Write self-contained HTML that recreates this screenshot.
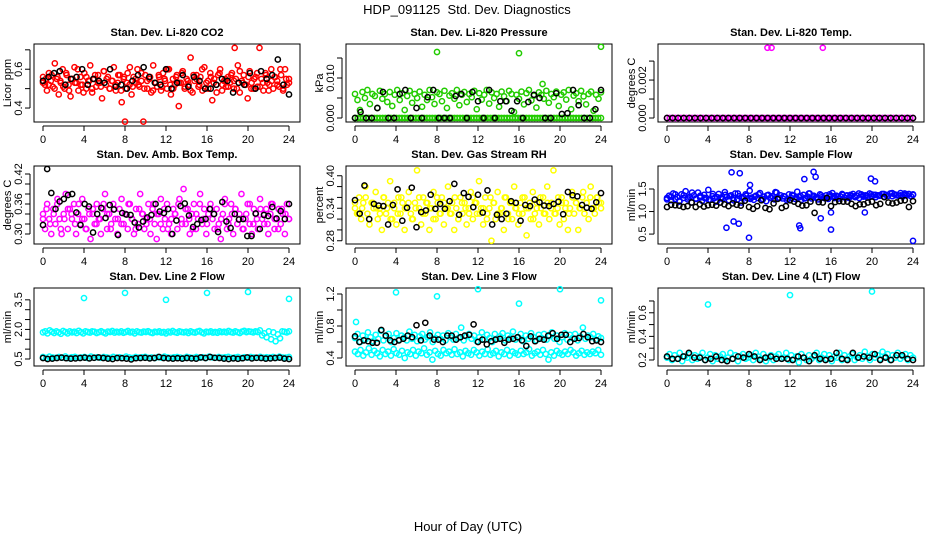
<!DOCTYPE html>
<html><head><meta charset="utf-8"><style>
html,body{margin:0;padding:0;background:#fff;}
svg{display:block;font-family:"Liberation Sans",Arial,sans-serif;}
</style></head><body>
<svg id="chart" width="936" height="540" viewBox="0 0 936 540" xmlns="http://www.w3.org/2000/svg">
<rect width="936" height="540" fill="#fff"/>
<text x="467" y="14" font-size="13" text-anchor="middle" style="white-space:pre">HDP_091125  Std. Dev. Diagnostics</text>
<text x="468" y="531" font-size="13" text-anchor="middle">Hour of Day (UTC)</text>
<g id="panels"></g>
</svg>
<script>
// ---- shared x axis ----
const xTicks = [0,4,8,12,16,20,24];

// ---- panel meta ----
const titles = ["Stan. Dev. Li-820 CO2","Stan. Dev. Li-820 Pressure","Stan. Dev. Li-820 Temp.","Stan. Dev. Amb. Box Temp.","Stan. Dev. Gas Stream RH","Stan. Dev. Sample Flow","Stan. Dev. Line 2 Flow","Stan. Dev. Line 3 Flow","Stan. Dev. Line 4 (LT) Flow"];
const yTitles = ["Licor ppm","kPa","degrees C","degrees C","percent","ml/min","ml/min","ml/min","ml/min"];
const yDomains = [[0.328,0.73],[-0.001,0.0185],[-0.00021,0.0039],[0.28,0.436],[0.274,0.418],[0.28,2.01],[0.145,4.1],[0.3,1.275],[0.149,0.81]];
const yTicks = [[0.4,0.5,0.6,0.7],[0,0.005,0.01,0.015],[0,0.001,0.002,0.003],[0.3,0.32,0.34,0.36,0.38,0.4,0.42],[0.28,0.3,0.32,0.34,0.36,0.38,0.4],[0.5,1.0,1.5],[0.5,1,1.5,2,2.5,3,3.5],[0.4,0.6,0.8,1.0,1.2],[0.2,0.3,0.4,0.5,0.6,0.7]];
const yTickLabels = [["0.4","","0.6",""],["0.000","","0.010",""],["0.000","","0.002",""],["0.30","","","0.36","","","0.42"],["0.28","","","0.34","","","0.40"],["0.5","1.0","1.5"],["0.5","","","2.0","","","3.5"],["0.4","","0.8","","1.2"],["0.2","","0.4","","0.6",""]];
const colors = ["#ff0000","#22cc00","#ff00ff","#ff00ff","#ffff00","#0000ff","#00ffff","#00ffff","#00ffff"];

// ---- series values (evenly spaced over 0-24 h) ----
const co2 = [0.56,0.52,0.49,0.58,0.54,0.51,0.63,0.55,0.47,0.53,0.6,0.5,0.57,0.52,0.46,0.55,0.61,0.53,0.49,0.56,0.52,0.58,0.5,0.54,0.62,0.48,0.55,0.51,0.57,0.53,0.45,0.59,0.52,0.56,0.5,0.54,0.61,0.49,0.53,0.57,0.43,0.55,0.5,0.58,0.52,0.47,0.56,0.53,0.6,0.51,0.54,0.33,0.57,0.5,0.55,0.48,0.62,0.53,0.51,0.56,0.49,0.58,0.54,0.5,0.6,0.47,0.55,0.52,0.57,0.41,0.53,0.59,0.5,0.55,0.52,0.66,0.48,0.54,0.57,0.51,0.56,0.49,0.61,0.53,0.5,0.58,0.44,0.55,0.52,0.57,0.6,0.49,0.54,0.51,0.56,0.53,0.58,0.5,0.55,0.62,0.48,0.54,0.57,0.52,0.45,0.59,0.53,0.5,0.56,0.51,0.71,0.55,0.49,0.58,0.53,0.52,0.6,0.5,0.56,0.54,0.51,0.57,0.49,0.6,0.52,0.55];
const co2b = [0.53,0.55,0.52,0.57,0.5,0.56,0.54,0.51,0.58,0.49,0.55,0.53,0.6,0.52,0.48,0.56,0.54,0.5,0.57,0.53,0.51,0.59,0.55,0.5,0.54,0.52,0.57,0.49,0.56,0.53,0.61,0.51,0.55,0.52,0.58,0.5,0.54,0.56,0.49,0.53,0.57,0.51,0.55,0.6,0.52,0.5,0.56,0.53,0.58,0.51,0.54,0.49,0.57,0.55,0.52,0.6,0.5,0.54,0.56,0.53,0.48,0.58,0.52,0.55,0.51,0.57,0.54,0.5,0.59,0.53,0.52,0.56,0.5,0.55,0.58,0.51,0.53,0.57,0.49,0.54,0.56,0.52,0.6,0.5,0.55,0.53];
const co2Black = [0.54,0.56,0.58,0.59,0.52,0.55,0.56,0.6,0.52,0.55,0.54,0.53,0.6,0.51,0.52,0.5,0.54,0.57,0.61,0.56,0.53,0.52,0.6,0.5,0.53,0.57,0.51,0.56,0.54,0.5,0.5,0.52,0.55,0.54,0.48,0.53,0.52,0.58,0.5,0.59,0.55,0.57,0.65,0.52,0.47];
const presHi = [0.006,0.0045,0.002,0.0065,0.005,0.007,0.0035,0.006,0.0055,0.0025,0.0068,0.0048,0.006,0.004,0.0065,0.003,0.0058,0.007,0.0045,0.0062,0.002,0.0055,0.0068,0.0038,0.006,0.005,0.0066,0.0028,0.0058,0.0045,0.007,0.0052,0.0035,0.0064,0.006,0.0042,0.0068,0.0025,0.0056,0.0062,0.0048,0.007,0.0032,0.0058,0.0065,0.004,0.006,0.0052,0.0068,0.0022,0.0062,0.0046,0.0058,0.007,0.0036,0.0064,0.005,0.006,0.0028,0.0066,0.0054,0.0042,0.0068,0.006,0.0015,0.0058,0.0048,0.0066,0.0034,0.0062,0.007,0.0044,0.0056,0.0026,0.0064,0.0058,0.0048,0.0068,0.0038,0.006,0.0052,0.0066,0.003,0.0058,0.0064,0.0046,0.007,0.0022,0.0056,0.0062,0.0042,0.0068,0.0054,0.0034,0.006,0.0066,0.0018,0.0058,0.0048,0.0064];
const presLo = [0,0,0,0,0,0,0,0,0,0,0,0,0,0,0,0,0,0,0,0,0,0,0,0,0,0,0,0,0,0,0,0,0,0,0,0,0,0,0,0,0,0,0,0,0,0,0,0,0,0,0,0,0,0,0,0,0,0,0,0,0,0,0,0,0,0,0,0,0,0,0,0,0,0,0,0,0,0,0,0,0,0,0,0,0,0,0,0,0,0];
const presBlack = [0,0.0015,0,0,0.0025,0.0065,0,0,0.006,0.007,0,0.0025,0,0.0052,0.007,0,0,0,0.0055,0.006,0,0.0065,0.0042,0,0.007,0,0.0042,0.0042,0.0018,0.0042,0,0.004,0.0058,0.005,0,0,0.0062,0.001,0.0012,0.007,0.0032,0,0,0.0022,0.007];
const tempLo = [0,0,0,0,0,0,0,0,0,0,0,0,0,0,0,0,0,0,0,0,0,0,0,0,0,0,0,0,0,0,0,0,0,0,0,0,0,0,0,0,0,0,0,0,0,0,0,0,0,0,0,0,0,0,0,0,0,0,0,0,0,0,0,0,0,0,0,0,0,0,0,0,0,0,0,0,0,0,0,0,0,0,0,0,0,0,0,0,0,0];
const tempBlack = [0,0,0,0,0,0,0,0,0,0,0,0,0,0,0,0,0,0,0,0,0,0,0,0,0,0,0,0,0,0,0,0,0,0,0,0,0,0,0,0,0,0,0,0,0];
const amb = [0.34,0.31,0.36,0.33,0.3,0.35,0.32,0.37,0.33,0.3,0.34,0.38,0.31,0.35,0.33,0.36,0.3,0.34,0.32,0.37,0.33,0.31,0.35,0.29,0.34,0.32,0.36,0.33,0.3,0.35,0.38,0.31,0.34,0.32,0.36,0.33,0.3,0.35,0.37,0.32,0.34,0.31,0.36,0.33,0.3,0.35,0.32,0.38,0.34,0.31,0.33,0.36,0.3,0.35,0.32,0.29,0.34,0.37,0.31,0.33,0.36,0.32,0.3,0.35,0.34,0.31,0.37,0.33,0.39,0.32,0.35,0.3,0.34,0.36,0.31,0.33,0.38,0.32,0.35,0.3,0.34,0.36,0.33,0.31,0.35,0.32,0.29,0.34,0.37,0.31,0.33,0.36,0.3,0.35,0.32,0.34,0.38,0.31,0.33,0.36,0.32,0.3,0.35,0.34,0.31,0.37,0.33,0.32,0.35,0.3,0.34,0.36,0.31,0.33,0.35,0.32,0.34,0.3,0.36,0.33];
const amb2 = [0.33,0.35,0.32,0.34,0.36,0.31,0.33,0.35,0.34,0.32,0.36,0.33,0.31,0.34,0.35,0.32,0.33,0.36,0.34,0.31,0.35,0.33,0.32,0.34,0.36,0.33,0.31,0.35,0.34,0.32,0.33,0.36,0.34,0.32,0.35,0.31,0.33,0.34,0.36,0.32,0.35,0.33,0.31,0.34,0.36,0.33,0.32,0.35,0.34,0.31,0.33,0.36,0.32,0.34,0.35,0.33,0.31,0.34,0.36,0.32,0.33,0.35,0.34,0.32,0.36,0.33,0.31,0.35,0.34,0.33];
const ambBlack = [0.318,0.43,0.382,0.35,0.365,0.37,0.378,0.38,0.343,0.318,0.36,0.355,0.303,0.34,0.352,0.332,0.358,0.349,0.298,0.342,0.339,0.338,0.323,0.313,0.325,0.333,0.338,0.36,0.345,0.342,0.35,0.3,0.327,0.356,0.361,0.337,0.314,0.32,0.328,0.33,0.35,0.34,0.304,0.364,0.325,0.312,0.34,0.329,0.33,0.296,0.296,0.341,0.31,0.338,0.336,0.354,0.331,0.346,0.33,0.36];
const rh = [0.34,0.33,0.36,0.32,0.35,0.38,0.33,0.31,0.35,0.34,0.37,0.32,0.34,0.3,0.36,0.33,0.35,0.39,0.32,0.34,0.31,0.36,0.33,0.35,0.3,0.34,0.37,0.33,0.32,0.35,0.41,0.34,0.31,0.36,0.33,0.35,0.3,0.34,0.37,0.32,0.35,0.33,0.36,0.31,0.34,0.38,0.33,0.35,0.3,0.34,0.32,0.36,0.33,0.35,0.31,0.34,0.37,0.32,0.35,0.33,0.39,0.34,0.31,0.36,0.33,0.34,0.28,0.35,0.32,0.37,0.33,0.34,0.3,0.36,0.33,0.35,0.32,0.38,0.34,0.31,0.35,0.33,0.36,0.29,0.34,0.32,0.37,0.33,0.35,0.31,0.34,0.36,0.33,0.38,0.32,0.35,0.41,0.33,0.34,0.31,0.36,0.32,0.35,0.3,0.34,0.37,0.33,0.35,0.3,0.34,0.36,0.33,0.35,0.32,0.38,0.34,0.33,0.36,0.35,0.34];
const rh2 = [0.35,0.33,0.34,0.36,0.32,0.35,0.34,0.33,0.36,0.34,0.32,0.35,0.33,0.36,0.34,0.35,0.32,0.34,0.36,0.33,0.35,0.34,0.32,0.36,0.33,0.35,0.34,0.33,0.36,0.32,0.35,0.34,0.33,0.36,0.35,0.33,0.34,0.32,0.36,0.35,0.33,0.34,0.36,0.32,0.35,0.34,0.33,0.36,0.34,0.35,0.32,0.34,0.36,0.33,0.35,0.34,0.33,0.36,0.35,0.34,0.33,0.36,0.35,0.34,0.37,0.35,0.36,0.34,0.36,0.35];
const rhBlack = [0.355,0.33,0.382,0.32,0.348,0.345,0.344,0.31,0.346,0.375,0.317,0.341,0.378,0.305,0.333,0.336,0.365,0.339,0.348,0.339,0.353,0.385,0.328,0.368,0.361,0.342,0.365,0.332,0.373,0.31,0.328,0.32,0.33,0.353,0.35,0.317,0.346,0.344,0.356,0.351,0.345,0.344,0.348,0.352,0.329,0.37,0.364,0.362,0.346,0.341,0.339,0.351,0.368];
const flow = [1.3,1.35,1.25,1.4,1.28,1.32,1.22,1.38,1.3,1.45,1.27,1.33,1.2,1.36,1.29,1.42,1.31,1.24,1.37,1.3,1.48,1.26,1.34,1.3,1.22,1.39,1.31,1.28,1.43,1.33,1.25,1.36,1.3,1.4,1.27,1.34,1.2,1.32,1.38,1.29,1.46,1.31,1.26,1.35,1.3,1.41,1.28,1.33,1.23,1.37,1.3,1.34,1.27,1.42,1.31,1.36,1.29,1.33,1.25,1.38,1.3,1.35,1.28,1.44,1.32,1.26,1.37,1.3,1.33,1.4,1.29,1.35,1.31,1.27,1.38,1.32,1.3,1.36,1.28,1.34,1.41,1.3,1.35,1.29,1.33,1.37,1.31,1.36,1.3,1.34,1.39,1.32,1.35,1.3,1.38,1.33,1.36,1.31,1.4,1.34,1.37,1.32,1.36,1.35,1.39,1.33,1.37,1.35,1.4,1.34,1.38,1.36,1.35,1.41,1.33,1.37,1.36,1.39,1.34,1.38];
const flow2 = [1.27,1.33,1.38,1.24,1.36,1.31,1.42,1.28,1.35,1.3,1.26,1.39,1.32,1.29,1.37,1.34,1.25,1.4,1.3,1.35,1.28,1.33,1.38,1.27,1.36,1.31,1.43,1.3,1.34,1.28,1.37,1.32,1.35,1.29,1.4,1.33,1.31,1.36,1.3,1.38,1.34,1.33,1.39,1.35,1.37,1.34,1.4,1.36,1.35,1.38,1.37,1.36,1.39,1.35,1.41,1.37,1.36,1.4,1.38,1.37];
const flowBlack = [1.1,1.15,1.14,1.13,1.1,1.12,1.2,1.1,1.16,1.11,1.14,1.15,1.13,1.2,1.16,1.12,1.18,1.15,1.13,1.24,1.1,1.06,1.12,1.25,1.08,1.05,1.18,1.28,1.08,1.12,1.25,1.22,1.17,1.13,1.14,1.22,0.97,1.21,1.2,1.3,1.12,1.21,1.23,1.22,1.22,1.17,1.12,1.16,1.16,1.2,1.22,1.14,1.17,1.32,1.2,1.18,1.2,1.24,1.25,1.1,1.23];
const l2Hi = [1.85,1.9,1.8,1.95,1.88,1.82,1.9,1.85,1.78,1.92,1.87,1.8,1.9,1.85,1.88,1.82,1.93,1.86,1.8,1.9,1.87,1.84,1.9,1.88,1.82,1.86,1.91,1.85,1.8,1.89,1.87,1.92,1.84,1.88,1.85,1.9,1.83,1.87,1.92,1.85,1.88,1.8,1.9,1.86,1.84,1.89,1.87,1.91,1.85,1.82,1.88,1.86,1.9,1.84,1.87,1.8,1.89,1.85,1.92,1.86,1.83,1.9,1.87,1.85,1.88,1.82,1.9,1.86,1.84,1.89,1.92,1.85,1.8,1.88,1.86,1.9,1.84,1.87,1.83,1.9,1.86,1.88,1.85,1.92,1.87,1.84,1.9,1.86,1.82,1.89,1.93,1.86,1.9,1.88,1.85,1.9,1.87,1.95,1.7,1.8,1.6,1.9,1.5,1.85,1.4,1.75,1.55,1.9,1.88,1.85,1.9];
const l2Lo = [0.6,0.55,0.62,0.58,0.56,0.6,0.57,0.63,0.55,0.59,0.61,0.56,0.58,0.6,0.55,0.62,0.57,0.59,0.56,0.6,0.58,0.55,0.61,0.57,0.59,0.56,0.62,0.58,0.55,0.6,0.57,0.59,0.61,0.56,0.58,0.55,0.6,0.57,0.62,0.58,0.56,0.59,0.6,0.57,0.55,0.61,0.58,0.56,0.6,0.57,0.59,0.55,0.62,0.58,0.56,0.6,0.57,0.59,0.61,0.56,0.58,0.6,0.55,0.59,0.57,0.6,0.58,0.56,0.61,0.57,0.59,0.58,0.6,0.56,0.62,0.58,0.57,0.6];
const l2Black = [0.55,0.5,0.52,0.55,0.57,0.54,0.52,0.53,0.55,0.57,0.53,0.56,0.58,0.55,0.52,0.5,0.55,0.54,0.52,0.48,0.54,0.55,0.56,0.53,0.55,0.6,0.55,0.53,0.52,0.54,0.52,0.55,0.53,0.52,0.58,0.55,0.6,0.56,0.55,0.52,0.5,0.53,0.51,0.54,0.58,0.53,0.56,0.55,0.52,0.53,0.55,0.57,0.52,0.5];
const l3Hi = [0.65,0.7,0.6,0.68,0.63,0.72,0.66,0.61,0.69,0.64,0.74,0.62,0.67,0.7,0.6,0.65,0.71,0.63,0.68,0.66,0.62,0.73,0.64,0.69,0.61,0.67,0.7,0.63,0.66,0.72,0.6,0.65,0.69,0.64,0.68,0.62,0.71,0.66,0.63,0.7,0.65,0.78,0.62,0.67,0.7,0.64,0.68,0.61,0.66,0.72,0.63,0.69,0.65,0.6,0.7,0.64,0.67,0.71,0.62,0.68,0.65,0.73,0.63,0.66,0.7,0.61,0.68,0.64,0.71,0.66,0.62,0.69,0.65,0.7,0.63,0.67,0.72,0.64,0.68,0.6,0.66,0.71,0.63,0.69,0.65,0.7,0.62,0.67,0.78,0.64,0.68,0.66,0.7,0.63,0.67,0.65];
const l3Lo = [0.48,0.45,0.5,0.43,0.47,0.52,0.44,0.49,0.46,0.42,0.5,0.45,0.48,0.43,0.51,0.46,0.44,0.49,0.4,0.47,0.45,0.5,0.43,0.48,0.46,0.52,0.44,0.47,0.38,0.49,0.45,0.43,0.5,0.46,0.48,0.44,0.51,0.45,0.47,0.42,0.49,0.46,0.44,0.5,0.47,0.43,0.48,0.45,0.51,0.44,0.46,0.49,0.42,0.47,0.45,0.5,0.43,0.48,0.46,0.44,0.49,0.45,0.47,0.51,0.43,0.46,0.48,0.44,0.5,0.45,0.38,0.47,0.43,0.49,0.46,0.44,0.48,0.45,0.5,0.47,0.43,0.46,0.49,0.44,0.47,0.45,0.48,0.46,0.5,0.44];
const l3Black = [0.67,0.6,0.62,0.61,0.59,0.59,0.75,0.68,0.62,0.6,0.62,0.64,0.68,0.66,0.81,0.62,0.84,0.68,0.63,0.63,0.6,0.68,0.68,0.63,0.66,0.68,0.69,0.82,0.6,0.63,0.57,0.61,0.63,0.64,0.59,0.63,0.64,0.66,0.62,0.55,0.67,0.61,0.64,0.63,0.68,0.71,0.64,0.69,0.69,0.6,0.64,0.65,0.7,0.66,0.61,0.62,0.6];
const l4 = [0.22,0.25,0.2,0.24,0.21,0.26,0.19,0.23,0.22,0.25,0.2,0.24,0.21,0.23,0.26,0.2,0.22,0.25,0.19,0.24,0.21,0.23,0.25,0.2,0.22,0.26,0.21,0.24,0.19,0.23,0.25,0.21,0.22,0.24,0.2,0.26,0.23,0.21,0.25,0.19,0.22,0.24,0.2,0.23,0.25,0.21,0.22,0.26,0.2,0.24,0.21,0.23,0.18,0.25,0.22,0.2,0.24,0.21,0.23,0.26,0.2,0.22,0.25,0.21,0.24,0.19,0.23,0.22,0.26,0.2,0.24,0.21,0.23,0.25,0.2,0.22,0.24,0.21,0.27,0.23,0.2,0.25,0.22,0.24,0.21,0.27,0.23,0.25,0.2,0.24,0.22,0.26,0.21,0.23,0.25,0.2,0.24,0.22];
const l4Black = [0.23,0.21,0.21,0.23,0.26,0.22,0.22,0.2,0.21,0.23,0.2,0.19,0.21,0.23,0.22,0.25,0.23,0.2,0.22,0.23,0.21,0.21,0.21,0.2,0.23,0.22,0.19,0.24,0.21,0.2,0.21,0.26,0.21,0.2,0.26,0.22,0.23,0.22,0.25,0.2,0.22,0.2,0.24,0.24,0.21,0.2];

// outliers: [hour, value]
const outHours = [[8.0,18.7],[8.0,16.0,24.0,18.3],[9.8,10.2,15.2],[],[],[6.3,7.1,5.8,6.5,7.0,8.0,8.1,12.9,13.0,13.4,14.3,14.5,15.0,16.0,16.0,19.3,19.9,20.3,24.0],[4.0,8.0,12.0,16.0,20.0,24.0],[0.1,4.0,8.0,12.0,16.0,20.0,24.0],[4.0,12.0,20.0]];
const outValues = [[0.33,0.71],[0.0165,0.0162,0.0178,0.0085],[0.0037,0.0037,0.0037],[],[],[1.87,1.85,0.64,0.78,0.73,0.42,1.59,0.69,0.63,1.72,1.88,1.77,0.85,0.6,0.98,0.98,1.73,1.67,0.35],[3.59,3.85,3.5,3.85,3.9,3.55],[0.85,1.22,1.17,1.26,1.08,1.26,1.12],[0.67,0.75,0.78]];

const colorSeries = [[co2,co2b],[presHi,presLo],[tempLo],[amb,amb2],[rh,rh2],[flow,flow2],[l2Hi,l2Lo],[l3Hi,l3Lo],[l4]];
const blackSeries = [co2Black,presBlack,tempBlack,ambBlack,rhBlack,flowBlack,l2Black,l3Black,l4Black];

const NS = "http://www.w3.org/2000/svg";
const root = document.getElementById('panels');
function mk(tag, attrs, parent){const e=document.createElementNS(NS,tag);for(const k in attrs)e.setAttribute(k,attrs[k]);parent.appendChild(e);return e;}

for (let p=0;p<9;p++){
  const c=p%3, r=Math.floor(p/3);
  const fx=312*c;
  const L=fx+34, R=fx+300, T=44+122*r, B=122+122*r;
  const [v0,v1]=yDomains[p];
  const xS=h=>fx+43+h*10.25;
  const yS=v=>B-(v-v0)*(B-T)/(v1-v0);
  const g=mk('g',{},root);
  
  
  const t=mk('text',{x:(L+R)/2,y:T-8,'font-size':11,'font-weight':'bold','text-anchor':'middle'},g);
  t.textContent=titles[p];
  
  
  const yl=mk('text',{x:0,y:0,'font-size':11,'text-anchor':'middle',transform:`translate(${fx+11},${(T+B)/2}) rotate(-90)`},g);
  yl.textContent=yTitles[p];
  
  
  // x axis
  const xa=mk('g',{stroke:'#000','stroke-width':1},g);
  
  
  mk('line',{x1:xS(0),x2:xS(24),y1:B+4,y2:B+4},xa);
  xTicks.forEach(h=>{
    mk('line',{x1:xS(h),x2:xS(h),y1:B+4,y2:B+9},xa);
    const tl=mk('text',{x:xS(h),y:B+21,'font-size':11,'text-anchor':'middle',stroke:'none',fill:'#000'},g);
    tl.textContent=h;
    
    
  });
  // y axis
  const ya=mk('g',{stroke:'#000','stroke-width':1},g);
  
  
  const yt=yTicks[p];
  mk('line',{x1:L-4,x2:L-4,y1:yS(yt[0]),y2:yS(yt[yt.length-1])},ya);
  yt.forEach((v,i)=>{
    mk('line',{x1:L-9,x2:L-4,y1:yS(v),y2:yS(v)},ya);
    if(yTickLabels[p][i]){
      const tl=mk('text',{x:0,y:0,'font-size':11,'text-anchor':'middle',transform:`translate(${L-12},${yS(v)}) rotate(-90)`},g);
      tl.textContent=yTickLabels[p][i];
      
      
    }
  });
  // box
  const bx=mk('rect',{x:L,y:T,width:R-L,height:B-T,fill:'none',stroke:'#000','stroke-width':1},g);
  
  
  // points
  const drawSeries=(vals,col,name)=>{
    const n=vals.length;
    vals.forEach((v,i)=>{
      const h=24*i/(n-1);
      const pt=mk('circle',{cx:xS(h),cy:yS(v),r:2.6,fill:'none',stroke:col,'stroke-width':1.5},g);
      
      
    });
  };
  colorSeries[p].forEach(s=>drawSeries(s,colors[p],'data-point'));
  outHours[p].forEach((h,i)=>{
    const pt=mk('circle',{cx:xS(h),cy:yS(outValues[p][i]),r:2.6,fill:'none',stroke:colors[p],'stroke-width':1.5},g);
    
    
  });
  drawSeries(blackSeries[p],'#000','reference-point');
}
</script>
</body></html>
